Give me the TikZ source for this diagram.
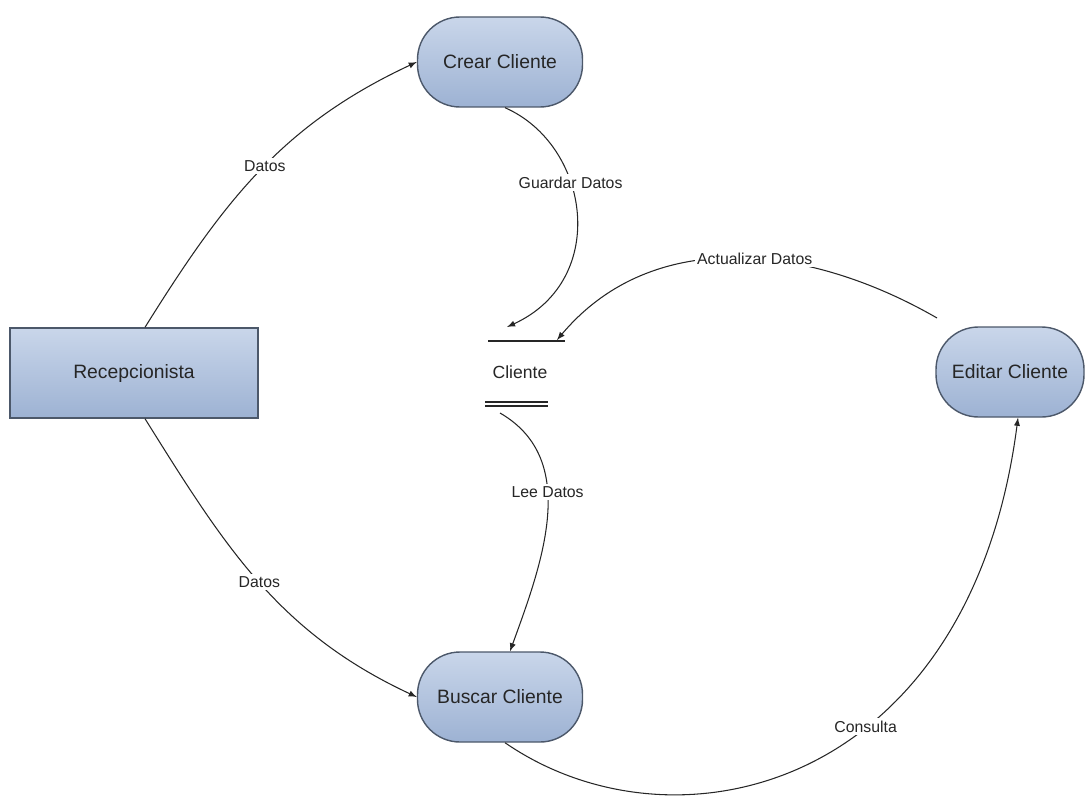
\documentclass[tikz,border=0pt]{standalone}
\usepackage{fontspec}
\setmainfont{Liberation Sans}

\definecolor{procTop}{HTML}{C9D6EA}
\definecolor{procBot}{HTML}{9DB2D3}
\definecolor{procLine}{HTML}{4C586A}

\begin{document}
\begin{tikzpicture}[
	proc/.style={draw=procLine, thick, top color=procTop, bottom color=procBot,
		rounded corners=0.85cm, minimum width=3.3cm, minimum height=1.8cm,
		font=\fontsize{11}{13}\selectfont, text=black!85},
	ent/.style={draw=procLine, thick, top color=procTop, bottom color=procBot,
		minimum width=4.96cm, minimum height=1.8cm,
		font=\fontsize{11}{13}\selectfont, text=black!85},
	flow/.style={-latex, black!85, line width=0.6pt},
	lbl/.style={fill=white, inner sep=1.5pt, font=\fontsize{9}{11}\selectfont, text=black!85}]
	\useasboundingbox (0,0) rectangle (21.72,-15.94);
	\node[ent] (recep) at (2.68,-7.46) {Recepcionista};
	\node[proc] (crear) at (10,-1.24) {Crear Cliente};
	\node[proc] (buscar) at (10,-13.94) {Buscar Cliente};
	\node[proc, minimum width=2.96cm] (editar) at (20.2,-7.44) {Editar Cliente};
	% almacen
	\node[font=\fontsize{10}{12}\selectfont, text=black!85] (cliente) at (10.4,-7.44) {Cliente};
	\coordinate (s1) at (9.76,-6.82);
	\coordinate (s2) at (11.3,-6.82);
	\coordinate (s3) at (9.7,-8.04);
	\coordinate (s4) at (10.96,-8.04);
	\coordinate (s5) at (9.7,-8.12);
	\coordinate (s6) at (10.96,-8.12);
	\draw[black!85, line width=0.7pt] (s1) -- (s2) (s3) -- (s4) (s5) -- (s6);
	\coordinate (inG) at (10.14,-6.54);
	\coordinate (inA) at (11.14,-6.8);
	\coordinate (outL) at (10,-8.26);
	\coordinate (outE) at (18.74,-6.36);
	% flujos
	\draw[flow] (recep.north -| 2.9,0) to[out=58,in=205]
		node[lbl, pos=0.52] {Datos} (crear.west);
	\draw[flow] (crear.south -| 10.1,0) .. controls (11.8,-2.9) and (12.2,-5.6) ..
		node[lbl, pos=0.38] {Guardar Datos} (inG);
	\draw[flow] (outE) to[out=150,in=50]
		node[lbl, pos=0.45] {Actualizar Datos} (inA);
	\draw[flow] (outL) to[out=-30,in=70]
		node[lbl, pos=0.4] {Lee Datos} (buscar.north -| 10.2,0);
	\draw[flow] (recep.south -| 2.9,0) to[out=-58,in=155]
		node[lbl, pos=0.5] {Datos} (buscar.west);
	\draw[flow] (buscar.south -| 10.1,0) .. controls (13.5,-17.2) and (19.4,-15.8) ..
		node[lbl, pos=0.6] {Consulta} (editar.south -| 20.36,0);
\end{tikzpicture}
\end{document}
